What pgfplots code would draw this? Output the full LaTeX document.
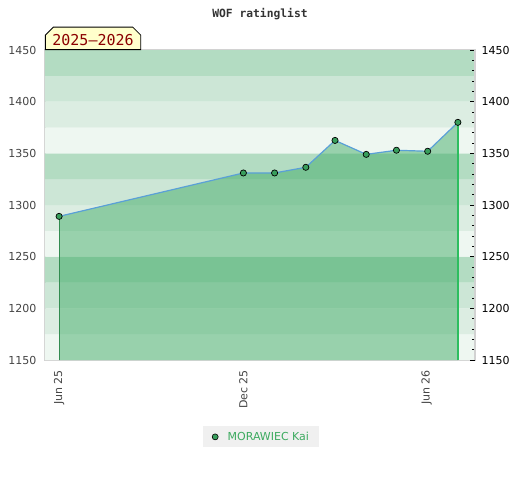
\documentclass[border=0pt]{standalone}
\usepackage{fontspec}
\setmainfont{DejaVu Sans}
\newfontfamily\monofont{DejaVu Sans Mono}
\usepackage{pgfplots}
\pgfplotsset{compat=1.18}
\usetikzlibrary{shapes.misc}
\definecolor{bandA}{RGB}{179,220,194}
\definecolor{bandB}{RGB}{204,230,214}
\definecolor{bandC}{RGB}{220,237,226}
\definecolor{bandD}{RGB}{238,247,241}
\definecolor{areagreen}{RGB}{59,169,98}
\definecolor{linecol}{RGB}{90,160,215}
\definecolor{markgreen}{RGB}{56,158,92}
\definecolor{leftgreen}{RGB}{50,140,80}
\definecolor{rightgreen}{RGB}{45,190,95}
\definecolor{framegray}{RGB}{210,210,210}
\definecolor{labelgray}{RGB}{68,68,68}
\definecolor{titlegray}{RGB}{51,51,51}
\definecolor{legendbg}{RGB}{240,240,240}
\definecolor{legendgreen}{RGB}{60,170,95}
\definecolor{boxyellow}{RGB}{255,255,204}
\definecolor{boxred}{RGB}{139,0,0}
\begin{document}
\begin{tikzpicture}
\begin{axis}[
  name=main,
  at={(0,0)}, anchor=south west,
  scale only axis, width=430pt, height=310pt,
  xmin=-14, xmax=413, ymin=1150, ymax=1450,
  axis line style={draw=framegray, line width=1.2pt},
  xtick={0,183,365}, xticklabels={Jun 25,Dec 25,Jun 26},
  xticklabel style={rotate=90, anchor=east, text=labelgray, font=\fontsize{11}{13}\selectfont},
  xticklabel shift=6.5pt,
  ytick={1150,1200,...,1450},
  yticklabel style={text=labelgray, font=\fontsize{11}{13}\selectfont},
  yticklabel shift=5pt,
  major tick length=0pt, minor tick length=0pt,
  tick style={draw=none},
  /pgf/number format/assume math mode=true,
  /pgf/number format/1000 sep={},
  title={\monofont\bfseries WOF ratinglist},
  title style={at={(0.5,1)}, anchor=center, yshift=30pt, font=\fontsize{11.3}{13}\selectfont, text=titlegray},
  legend style={at={(0.502,-0.248)}, anchor=center, fill=legendbg, draw=none,
    font=\fontsize{11}{13}\selectfont, text=legendgreen, inner xsep=7.5pt, inner ysep=3.5pt},
  legend cell align=left,
]
% background bands
\addplot[forget plot, fill=bandD, draw=none] coordinates {(-14,1150)(413,1150)(413,1175)(-14,1175)(-14,1150)};
\addplot[forget plot, fill=bandC, draw=none] coordinates {(-14,1175)(413,1175)(413,1200)(-14,1200)(-14,1175)};
\addplot[forget plot, fill=bandB, draw=none] coordinates {(-14,1200)(413,1200)(413,1225)(-14,1225)(-14,1200)};
\addplot[forget plot, fill=bandA, draw=none] coordinates {(-14,1225)(413,1225)(413,1250)(-14,1250)(-14,1225)};
\addplot[forget plot, fill=bandD, draw=none] coordinates {(-14,1250)(413,1250)(413,1275)(-14,1275)(-14,1250)};
\addplot[forget plot, fill=bandC, draw=none] coordinates {(-14,1275)(413,1275)(413,1300)(-14,1300)(-14,1275)};
\addplot[forget plot, fill=bandB, draw=none] coordinates {(-14,1300)(413,1300)(413,1325)(-14,1325)(-14,1300)};
\addplot[forget plot, fill=bandA, draw=none] coordinates {(-14,1325)(413,1325)(413,1350)(-14,1350)(-14,1325)};
\addplot[forget plot, fill=bandD, draw=none] coordinates {(-14,1350)(413,1350)(413,1375)(-14,1375)(-14,1350)};
\addplot[forget plot, fill=bandC, draw=none] coordinates {(-14,1375)(413,1375)(413,1400)(-14,1400)(-14,1375)};
\addplot[forget plot, fill=bandB, draw=none] coordinates {(-14,1400)(413,1400)(413,1425)(-14,1425)(-14,1400)};
\addplot[forget plot, fill=bandA, draw=none] coordinates {(-14,1425)(413,1425)(413,1450)(-14,1450)(-14,1425)};
% area under the rating line
\addplot[forget plot, fill=areagreen, fill opacity=0.48, draw=none] coordinates {
(0,1150)(0,1289)(183,1331)(214,1331)(245,1336.5)(274,1362.5)(305,1349)(335,1353)(366,1352)(396,1380)(396,1150)};
\addplot[forget plot, color=leftgreen, mark=none, line width=0.9pt] coordinates {(0,1150)(0,1289)};
\addplot[forget plot, color=rightgreen, mark=none, line width=1.5pt] coordinates {(396,1150)(396,1380)};
\addplot[linecol, line width=1.2pt, mark=*, mark size=3.1pt,
  mark options={fill=markgreen, draw=black, line width=0.7pt},
  legend image code/.code={\path[draw=none,fill=none] (0pt,0pt) -- (15pt,0pt); \draw[fill=markgreen, draw=black, line width=0.6pt] (4.5pt,0pt) circle (3pt);}]
coordinates {(0,1289)(183,1331)(214,1331)(245,1336.5)(274,1362.5)(305,1349)(335,1353)(366,1352)(396,1380)};
\addlegendentry{MORAWIEC Kai}
\end{axis}
\node[chamfered rectangle, chamfered rectangle corners={north west,north east},
  chamfered rectangle xsep=4pt, chamfered rectangle ysep=4pt,
  draw=black, fill=boxyellow, text=boxred, line width=0.8pt,
  font=\monofont\fontsize{15}{17}\selectfont, anchor=south west,
  inner xsep=3pt, inner ysep=0.5pt, text height=13.5pt, text depth=0pt]
  at (main.north west) {2025–2026};
\begin{axis}[
  at={(0,0)}, anchor=south west,
  scale only axis, width=430pt, height=310pt,
  xmin=-14, xmax=413, ymin=1150, ymax=1450,
  axis x line=none, axis y line*=right,
  y axis line style={draw=framegray, line width=1.2pt},
  ytick={1150,1200,...,1450}, minor y tick num=4,
  tick align=inside, major tick length=5pt, minor tick length=3pt,
  tick style={black, line width=0.8pt},
  yticklabel style={text=black, font=\fontsize{11}{13}\selectfont},
  yticklabel shift=3pt,
  /pgf/number format/assume math mode=true,
  /pgf/number format/1000 sep={},
]
\addplot[draw=none] coordinates {(0,1200)};
\end{axis}
\pgfresetboundingbox
\useasboundingbox (-45pt,-120pt) rectangle (475pt,360pt);
\end{tikzpicture}
\end{document}
